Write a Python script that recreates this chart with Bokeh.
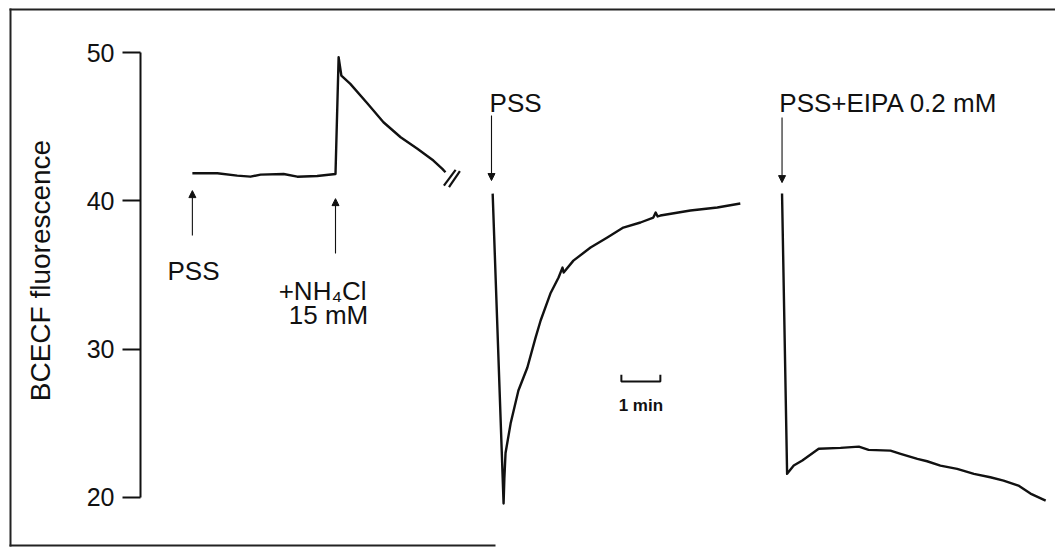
from bokeh.plotting import figure
from bokeh.models import FixedTicker, Arrow, NormalHead, BoxAnnotation, ColumnDataSource
from bokeh.core.properties import value
from bokeh.embed import file_html
from bokeh.resources import INLINE
import math

FONT = "Liberation Sans"

# Recording time in minutes (chart time, interrupted between traces)
# and BCECF fluorescence (arbitrary units)
trace1_t = [1.33, 1.97, 2.48, 2.82, 3.08, 3.67, 4.02, 4.53, 5.00, 5.08, 5.15,
            5.38, 5.82, 6.23, 6.67, 7.10, 7.51, 7.74, 7.82]
trace1_f = [41.86, 41.86, 41.70, 41.63, 41.77, 41.81, 41.63, 41.68, 41.81, 49.68, 48.45,
            47.89, 46.56, 45.30, 44.29, 43.51, 42.72, 42.16, 41.93]

trace2_t = [9.03, 9.31, 9.33, 9.36, 9.49, 9.69, 9.92, 10.13, 10.26, 10.51, 10.72,
            10.82, 10.85, 11.10, 11.54, 11.97, 12.38, 12.82, 13.15, 13.21, 13.26,
            13.33, 14.10, 14.79, 15.38]
trace2_f = [40.49, 19.59, 21.30, 23.00, 24.98, 27.21, 28.76, 30.78, 31.93, 33.75, 34.83,
            35.50, 35.17, 35.97, 36.85, 37.53, 38.20, 38.54, 38.87, 39.21, 38.95,
            39.01, 39.35, 39.55, 39.82]

trace3_t = [16.45, 16.58, 16.75, 16.97, 17.39, 17.95, 18.42, 18.67, 19.23, 19.49,
            19.92, 20.17, 20.51, 20.94, 21.37, 21.79, 22.13, 22.51, 22.82, 23.21]
trace3_f = [40.49, 21.59, 22.15, 22.49, 23.28, 23.34, 23.43, 23.21, 23.16, 22.94,
            22.60, 22.44, 22.15, 21.93, 21.59, 21.36, 21.14, 20.80, 20.26, 19.79]

# Solution changes: arrow time, arrow tail / head fluorescence
arrow_t = [1.33, 5.00, 9.00, 16.45]
arrow_tail = [37.66, 36.45, 45.75, 45.62]
arrow_head = [40.69, 40.15, 41.37, 41.23]

# Labels of the solution changes
label_text = ["PSS", "+NH\u2084Cl", "15 mM", "PSS", "PSS+EIPA 0.2 mM"]
label_t = [1.36, 4.67, 4.82, 8.95, 16.38]
label_f = [35.30, 33.95, 32.33, 46.63, 46.63]
label_align = ["center", "center", "center", "left", "left"]

# Axis break after the first trace
break_t0 = [7.78, 7.91]
break_f0 = [41.03, 40.92]
break_t1 = [8.08, 8.19]
break_f1 = [42.09, 42.00]

# Time scale bar (1 min)
scale_t0 = 12.33
scale_len = 1.0
scale_f = 27.82
scale_tick = 0.45

y_ticks = [20, 30, 40, 50]

W, H = 1055, 549
p = figure(width=W, height=H, output_backend="svg", toolbar_location=None,
           x_range=(-3.590, 23.462), y_range=(16.49, 53.51),
           x_axis_type=None, y_axis_location="left", min_border=0)
p.outline_line_color = None
p.grid.visible = False
p.background_fill_color = "white"
p.border_fill_color = "white"

ax = p.yaxis[0]
ax.fixed_location = 0
ax.ticker = FixedTicker(ticks=y_ticks)
ax.bounds = (20, 50)
ax.axis_line_width = 2
ax.axis_line_color = "#111111"
ax.major_tick_line_width = 2
ax.major_tick_line_color = "#111111"
ax.major_tick_out = 18
ax.major_tick_in = 0
ax.minor_tick_out = 0
ax.minor_tick_in = 0
ax.major_label_standoff = 8
ax.major_label_text_font = FONT
ax.major_label_text_font_size = "25px"
ax.major_label_text_color = "#111111"

p.text(x=[-2.56], y=[35.30], text=["BCECF fluorescence"], angle=math.pi / 2,
       text_font=value(FONT), text_font_size="28px", text_align="center",
       text_baseline="middle", text_color="#111111")

for t, f in ((trace1_t, trace1_f), (trace2_t, trace2_f), (trace3_t, trace3_f)):
    p.line(t, f, line_color="#111111", line_width=2.4, line_join="round")

p.segment(x0=break_t0, y0=break_f0, x1=break_t1, y1=break_f1,
          line_color="#111111", line_width=2.2)

for t, f0, f1 in zip(arrow_t, arrow_tail, arrow_head):
    p.add_layout(Arrow(x_start=t, y_start=f0, x_end=t, y_end=f1,
                       line_color="#111111", line_width=1.1,
                       end=NormalHead(size=7, fill_color="#111111",
                                      line_color="#111111", line_width=1)))

lab = ColumnDataSource(dict(x=label_t, y=label_f, text=label_text, align=label_align))
p.text(x="x", y="y", text="text", source=lab, text_align="align",
       text_baseline="alphabetic", text_font=value(FONT), text_font_size="26px",
       text_color="#111111")

# scale bar
p.line([scale_t0, scale_t0, scale_t0 + scale_len, scale_t0 + scale_len],
       [scale_f + scale_tick, scale_f, scale_f, scale_f + scale_tick],
       line_color="#111111", line_width=2)
p.text(x=[scale_t0 + scale_len / 2], y=[26.20], text=["1 min"],
       text_font=value(FONT), text_font_size="17px", text_font_style="bold",
       text_align="center", text_baseline="alphabetic", text_color="#111111")

# enclosing frame (left, top and part of the bottom edge)
edge = dict(fill_color="#222222", fill_alpha=1, line_color=None,
            left_units="screen", right_units="screen",
            top_units="screen", bottom_units="screen")
p.add_layout(BoxAnnotation(left=9, right=11, bottom=3, top=541, **edge))
p.add_layout(BoxAnnotation(left=9, right=1055, bottom=539, top=541, **edge))
p.add_layout(BoxAnnotation(left=9, right=495, bottom=3, top=5, **edge))

open("out.html", "w").write(file_html(p, INLINE))
